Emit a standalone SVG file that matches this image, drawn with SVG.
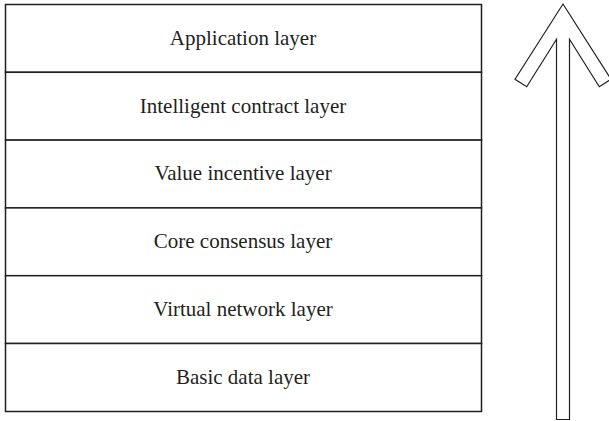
<svg xmlns="http://www.w3.org/2000/svg" width="609" height="421" viewBox="0 0 609 421">
<style>
.box{fill:#fff;stroke:#231f20;stroke-width:1.5}
.t{font-family:"Liberation Serif",serif;font-size:21px;fill:#231f20;text-anchor:middle}
.arr{fill:#fff;stroke:#231f20;stroke-width:1.2;stroke-linejoin:miter}
</style>
<rect width="609" height="421" fill="#fff"/>
<g id="application"><rect class="box" x="5.5" y="4.5" width="476" height="67.8"/><text class="t" x="243" y="45">Application layer</text></g>
<g id="contract"><rect class="box" x="5.5" y="72.3" width="476" height="67.8"/><text class="t" x="243" y="112.6">Intelligent contract layer</text></g>
<g id="incentive"><rect class="box" x="5.5" y="140.1" width="476" height="67.8"/><text class="t" x="243" y="180.4">Value incentive layer</text></g>
<g id="consensus"><rect class="box" x="5.5" y="207.9" width="476" height="67.8"/><text class="t" x="243" y="248.2">Core consensus layer</text></g>
<g id="network"><rect class="box" x="5.5" y="275.7" width="476" height="67.8"/><text class="t" x="243" y="316">Virtual network layer</text></g>
<g id="data"><rect class="box" x="5.5" y="343.5" width="476" height="68"/><text class="t" x="243" y="383.8">Basic data layer</text></g>
<g id="connectors">
<path class="arr" d="M563,4 L611,79.3 L599.3,86.7 L569.5,39.3 L569.5,419.5 L556.5,419.5 L556.5,39.3 L526.7,86.7 L515,79.3 Z"/>
</g>
</svg>
